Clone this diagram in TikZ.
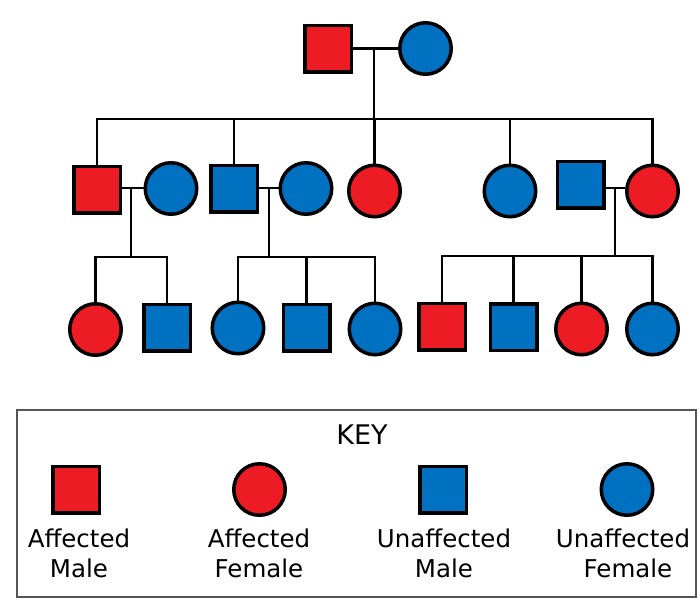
\documentclass[tikz,border=0pt]{standalone}
\usepackage{fontspec}
\setmainfont{DejaVu Sans}
\definecolor{aff}{RGB}{237,28,36}
\definecolor{unaff}{RGB}{0,112,192}
\definecolor{keyframe}{RGB}{85,85,85}
\begin{document}
\begin{tikzpicture}[x=1pt,y=1pt,
  male/.style={rectangle,draw=black,line width=3.5pt,minimum size=46.5pt,inner sep=0pt},
  female/.style={circle,draw=black,line width=3.5pt,minimum size=51.5pt,inner sep=0pt},
  affm/.style={male,fill=aff},
  unm/.style={male,fill=unaff},
  afff/.style={female,fill=aff},
  unff/.style={female,fill=unaff},
  link/.style={draw=black,line width=2.7pt},
  lbl/.style={anchor=base,inner sep=0pt,font=\fontsize{24.5}{30}\selectfont},
  keytitle/.style={anchor=base,inner sep=0pt,font=\fontsize{27}{32}\selectfont},
  keybox/.style={draw=keyframe,line width=1.5pt}
]
\useasboundingbox (0,0) rectangle (700,-605);

% generation I
\node[affm] (g1m) at (328,-48.5) {};
\node[unff] (g1f) at (425.5,-48.5) {};
% generation II
\node[affm] (A) at (97,-189.5) {};
\node[unff] (B) at (171,-188.5) {};
\node[unm]  (C) at (234,-188.5) {};
\node[unff] (D) at (306,-188.5) {};
\node[afff] (E) at (374.5,-191) {};
\node[unff] (F) at (510,-191) {};
\node[unm]  (G) at (580.5,-184.5) {};
\node[afff] (H) at (652.5,-191) {};
% generation III
\node[afff] (c1) at (95.5,-329.5) {};
\node[unm]  (c2) at (167,-327.5) {};
\node[unff] (c3) at (238,-328) {};
\node[unm]  (c4) at (306.5,-327.5) {};
\node[unff] (c5) at (375,-329) {};
\node[affm] (c6) at (442,-326.5) {};
\node[unm]  (c7) at (513.5,-327) {};
\node[afff] (c8) at (581.5,-329) {};
\node[unff] (c9) at (652.5,-329) {};

% couple I
\coordinate (m1) at (374,-48.5);
\coordinate (s1) at (374,-119);
\draw[link] (g1m) -- (g1f);
\draw[link] (m1) -- (s1);
\draw[link] (A.north) |- (s1) -| (H.north);
\draw[link] (C.north) -- (C.north |- s1);
\draw[link] (E.north) -- (E.north |- s1);
\draw[link] (F.north) -- (F.north |- s1);

% couple A-B
\coordinate (m2) at (131,-188);
\coordinate (s2) at (131,-257);
\draw[link] (A.east |- m2) -- (B.west |- m2);
\draw[link] (m2) -- (s2);
\draw[link] (c1.north) |- (s2) -| (c2.north);

% couple C-D
\coordinate (m3) at (269,-188);
\coordinate (s3) at (269,-257);
\draw[link] (C.east |- m3) -- (D.west |- m3);
\draw[link] (m3) -- (s3);
\draw[link] (c3.north) |- (s3) -| (c5.north);
\draw[link] (c4.north) -- (c4.north |- s3);

% couple G-H
\coordinate (m4) at (615,-188);
\coordinate (s4) at (615,-256);
\draw[link] (G.east |- m4) -- (H.west |- m4);
\draw[link] (m4) -- (s4);
\draw[link] (c6.north) |- (s4) -| (c9.north);
\draw[link] (c7.north) -- (c7.north |- s4);
\draw[link] (c8.north) -- (c8.north |- s4);

% key
\draw[keybox] (17,-410) rectangle (696,-597);
\node[keytitle] (key) at (362,-444) {KEY};
\node[affm] (k1) at (76,-489.5) {};
\node[afff] (k2) at (259.5,-489.5) {};
\node[unm]  (k3) at (443,-489.5) {};
\node[unff] (k4) at (627,-489.5) {};
\node[lbl] (l1a) at (79,-547) {Affected};
\node[lbl] (l1b) at (79,-577) {Male};
\node[lbl] (l2a) at (259,-547) {Affected};
\node[lbl] (l2b) at (259,-577) {Female};
\node[lbl] (l3a) at (444,-547) {Unaffected};
\node[lbl] (l3b) at (444,-577) {Male};
\node[lbl] (l4a) at (623,-547) {Unaffected};
\node[lbl] (l4b) at (628,-577) {Female};
\end{tikzpicture}
\end{document}
